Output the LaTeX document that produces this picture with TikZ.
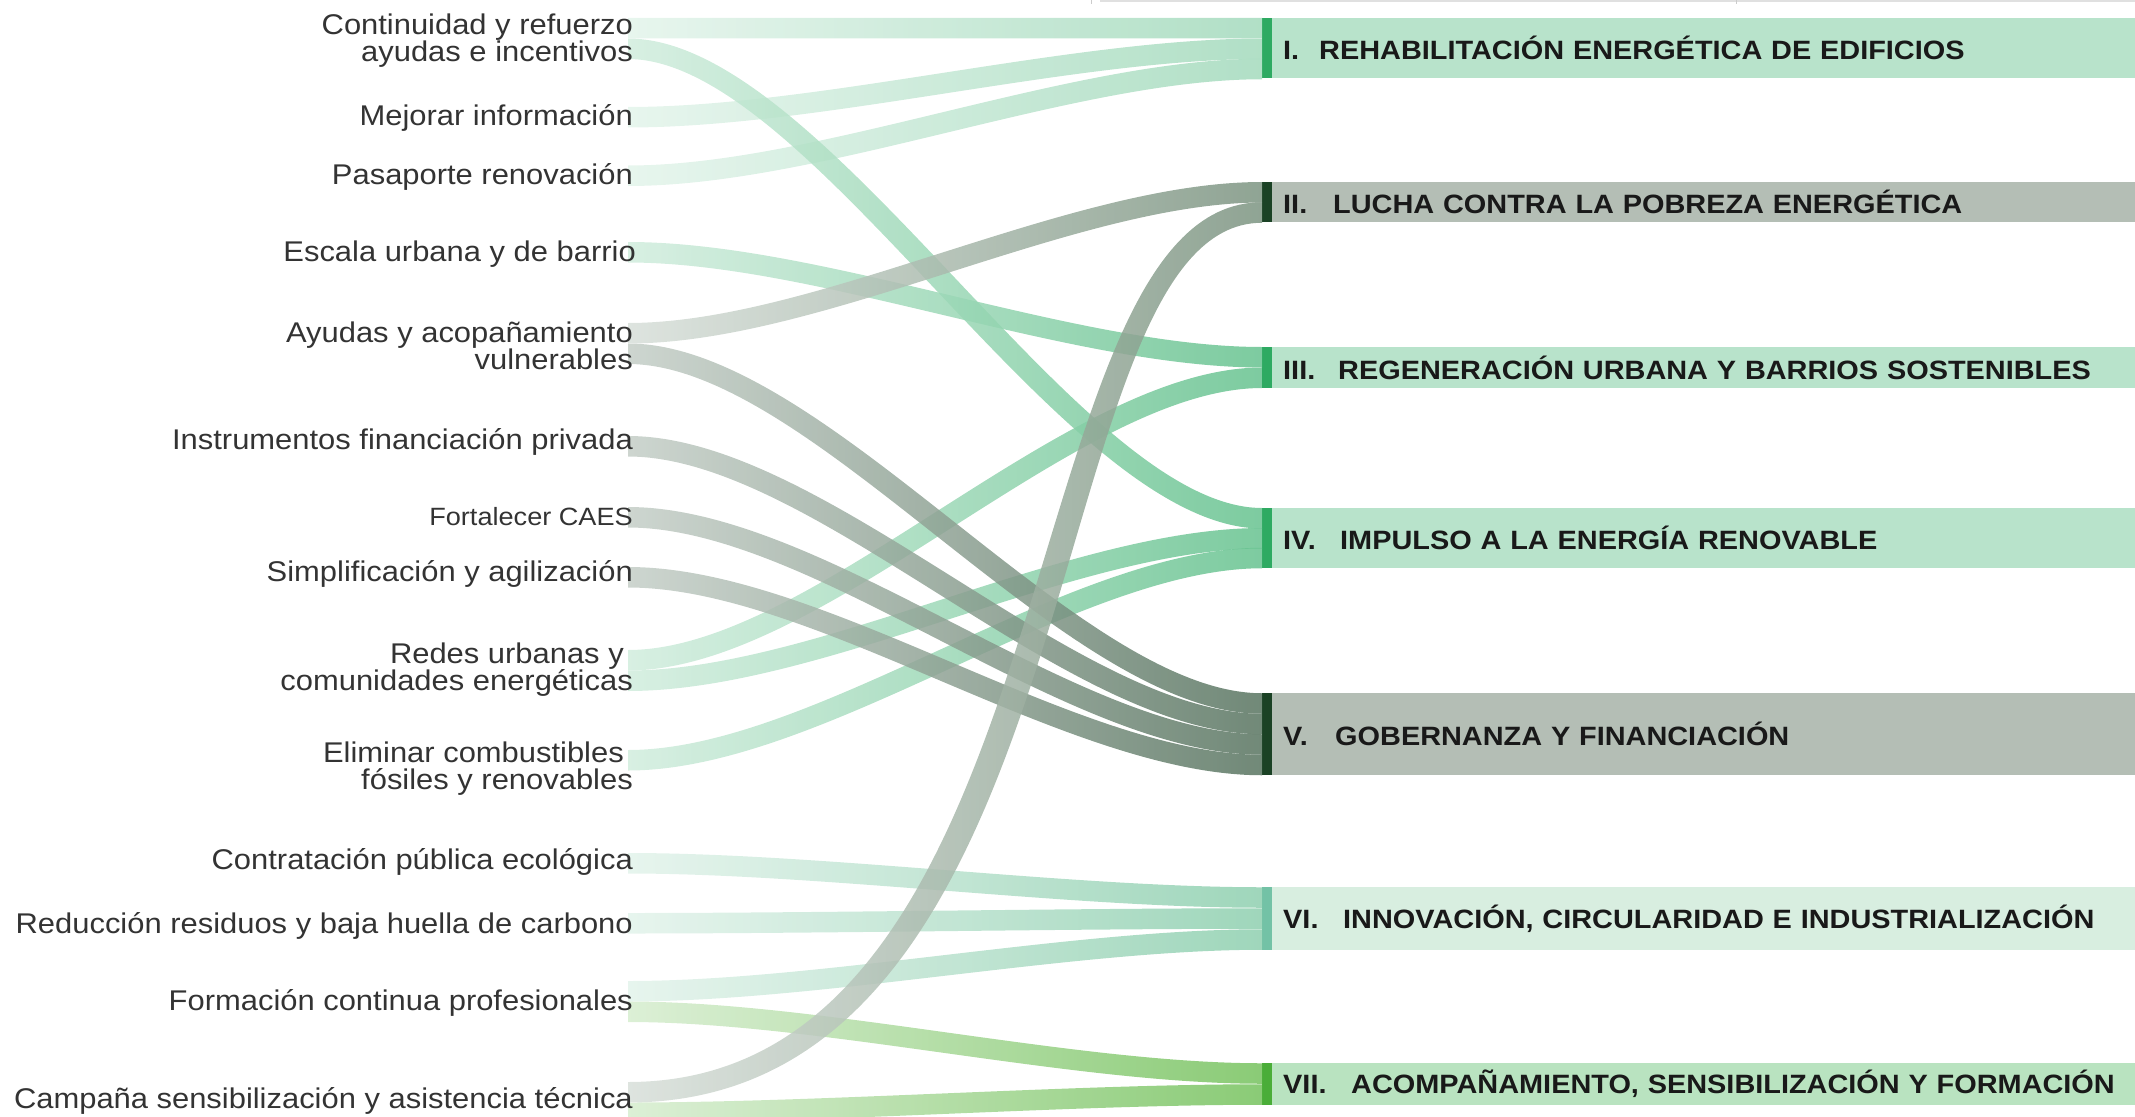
\documentclass[tikz,border=0pt]{standalone}
\usepackage{fontspec}
\setmainfont{Liberation Sans}[FakeStretch=1.085]
\newfontfamily\titlefont{Liberation Sans}[FakeStretch=1.09]
\usepackage{xcolor}
\usepackage{tikz}
\usetikzlibrary{calc}

\definecolor{txtgray}{HTML}{333333}
\definecolor{mintbox}{HTML}{B8E3CB}
\definecolor{mintbar}{HTML}{2EAA62}
\definecolor{sagebox}{HTML}{B4BEB5}
\definecolor{sagebar}{HTML}{1B4225}
\definecolor{palebox}{HTML}{D8EEE0}
\definecolor{palebar}{HTML}{73C2A6}
\definecolor{leafbox}{HTML}{B9E3C0}
\definecolor{leafbar}{HTML}{4AAD38}
\definecolor{fI}{HTML}{A3DABC}
\definecolor{fII}{HTML}{7C9481}
\definecolor{fIII}{HTML}{66C28F}
\definecolor{fV}{HTML}{587460}
\definecolor{fVI}{HTML}{8ECFAF}
\definecolor{fVII}{HTML}{76C25E}

\newlength{\halfth}
\setlength{\halfth}{10.25pt}
% ribbon of constant width round the curve between two named centres
\newcommand{\ribbonx}[5]{%
  \path[#5] let \p1=(#3), \p2=(#4),
      \p3=($(#3)!#1!(#4)$), \p4=($(#3)!#2!(#4)$),
      \n1={veclen(\x4-\x3,\y2-\y1)},
      \n2={-1.2*\halfth*(\y2-\y1)/(\x4-\x3+\n1)} in
    (\x1,{\y1+\halfth}) .. controls ({\x3+\n2*1pt},{\y1+\halfth}) and ({\x4+\n2*1pt},{\y2+\halfth}) .. (\x2,{\y2+\halfth})
    -- (\x2,{\y2-\halfth}) .. controls ({\x4-\n2*1pt},{\y2-\halfth}) and ({\x3-\n2*1pt},{\y1-\halfth}) .. (\x1,{\y1-\halfth}) -- cycle;}
\newcommand{\ribbon}[3]{\ribbonx{.3}{.7}{#1}{#2}{#3}}

\begin{document}
\begin{tikzpicture}[x=1pt, y=-1pt,
    src/.style={anchor=east, align=right, inner sep=0pt, text=txtgray, font=\fontsize{28.5}{27}\selectfont},
    goal/.style 2 args={anchor=west, fill=#1, minimum height=#2, text width=841pt, inner xsep=11pt, inner ysep=0pt, align=left, text=black!90, font=\titlefont\bfseries\fontsize{26.5}{28}\selectfont},
    toI/.style={left color=fI!30!white, right color=fI, fill opacity=.85},
    toII/.style={left color=fII!30!white, right color=fII, fill opacity=.85},
    toIII/.style={left color=fIII!30!white, right color=fIII, fill opacity=.85},
    toV/.style={left color=fV!35!white, right color=fV, fill opacity=.85},
    toVI/.style={left color=fVI!25!white, right color=fVI, fill opacity=.85},
    toVII/.style={left color=fVII!30!white, right color=fVII, fill opacity=.85}
]
\useasboundingbox (0,0) rectangle (2135,1116);

% faint frame remnant at the top
\draw[black!12, line width=1.5pt] (1100,1) -- (2135,1);
\draw[black!20, line width=1pt] (1091,0) -- (1091,4);
\draw[black!20, line width=1pt] (1736,0) -- (1736,4);

% target boxes
\node[goal={mintbox}{60pt}] (t1) at (1272,48) {\makebox[36pt][l]{I.}REHABILITACIÓN ENERGÉTICA DE EDIFICIOS};
\node[goal={sagebox}{40pt}] (t2) at (1272,202) {\makebox[50pt][l]{II.}LUCHA CONTRA LA POBREZA ENERGÉTICA};
\node[goal={mintbox}{41pt}] (t3) at (1272,367.5) {\makebox[55pt][l]{III.}REGENERACIÓN URBANA Y BARRIOS SOSTENIBLES};
\node[goal={mintbox}{60pt}] (t4) at (1272,538) {\makebox[57pt][l]{IV.}IMPULSO A LA ENERGÍA RENOVABLE};
\node[goal={sagebox}{82pt}] (t5) at (1272,734) {\makebox[52pt][l]{V.}GOBERNANZA Y FINANCIACIÓN};
\node[goal={palebox}{63pt}] (t6) at (1272,918.5) {\makebox[60pt][l]{VI.}INNOVACIÓN, CIRCULARIDAD E INDUSTRIALIZACIÓN};
\node[goal={leafbox}{42pt}] (t7) at (1272,1084) {\makebox[68pt][l]{VII.}ACOMPAÑAMIENTO, SENSIBILIZACIÓN Y FORMACIÓN};

\fill[mintbar] (t1.north west) rectangle ([xshift=-10pt]t1.south west);
\fill[sagebar] (t2.north west) rectangle ([xshift=-10pt]t2.south west);
\fill[mintbar] (t3.north west) rectangle ([xshift=-10pt]t3.south west);
\fill[mintbar] (t4.north west) rectangle ([xshift=-10pt]t4.south west);
\fill[sagebar] (t5.north west) rectangle ([xshift=-10pt]t5.south west);
\fill[palebar] (t6.north west) rectangle ([xshift=-10pt]t6.south west);
\fill[leafbar] (t7.north west) rectangle ([xshift=-10pt]t7.south west);

% ribbon centres
\foreach \n/\y in {conta/28.25, contb/48.75, mej/117.25, pas/175.75, esc/252.25, ayua/333.25, ayub/353.75,
    ins/446.25, cae/517.25, sim/577.25, reda/660.25, redb/680.75, eli/760.25, cpe/863.25, res/923.25,
    fora/991.25, forb/1011.75, cama/1092.25, camb/1112.75}
  \coordinate (\n) at (628,\y);
\foreach \n/\y in {I1/28.25, I2/48.75, I3/69, II1/192.25, II2/212.5, III1/357.25, III2/377.75,
    IV1/518.25, IV2/538.25, IV3/558, V1/703.5, V2/724, V3/744.5, V4/765,
    VI1/897.5, VI2/918.5, VI3/939.5, VII1/1073.5, VII2/1094.5}
  \coordinate (\n) at (1262,\y);

% ribbons
\ribbon{conta}{I1}{toI}
\ribbon{mej}{I2}{toI}
\ribbon{pas}{I3}{toI}
\ribbon{esc}{III1}{toIII}
\ribbon{reda}{III2}{toIII}
\ribbon{contb}{IV1}{toIII}
\ribbon{redb}{IV2}{toIII}
\ribbon{eli}{IV3}{toIII}
\ribbon{ayub}{V1}{toV}
\ribbon{ins}{V2}{toV}
\ribbon{cae}{V3}{toV}
\ribbon{sim}{V4}{toV}
\ribbon{cpe}{VI1}{toVI}
\ribbon{res}{VI2}{toVI}
\ribbon{fora}{VI3}{toVI}
\ribbon{forb}{VII1}{toVII}
\ribbon{camb}{VII2}{toVII}
\ribbon{ayua}{II1}{toII}
\ribbonx{.73}{.62}{cama}{II2}{toII}

% source labels
\node[src] (lcont) at (633,41) {Continuidad y refuerzo\\ayudas e incentivos};
\node[src] (lmej) at (633,118) {Mejorar información};
\node[src] (lpas) at (633,177) {Pasaporte renovación};
\node[src] (lesc) at (636,254) {Escala urbana y de barrio};
\node[src] (layu) at (633,346) {Ayudas y acopañamiento\\vulnerables};
\node[src] (lins) at (633,442) {Instrumentos financiación privada};
\node[src, font=\fontsize{25}{27}\selectfont] (lcae) at (633,517) {Fortalecer CAES};
\node[src] (lsim) at (633,574) {Simplificación y agilización};
\node[src] (lred) at (633,670) {Redes urbanas y\hspace*{9pt}\\comunidades energéticas};
\node[src] (leli) at (633,769) {Eliminar combustibles\hspace*{9pt}\\fósiles y renovables};
\node[src] (lcpe) at (633,862) {Contratación pública ecológica};
\node[src] (lres) at (633,926) {Reducción residuos y baja huella de carbono};
\node[src] (lfor) at (633,1003) {Formación continua profesionales};
\node[src] (lcam) at (633,1101) {Campaña sensibilización y asistencia técnica};

\end{tikzpicture}
\end{document}
